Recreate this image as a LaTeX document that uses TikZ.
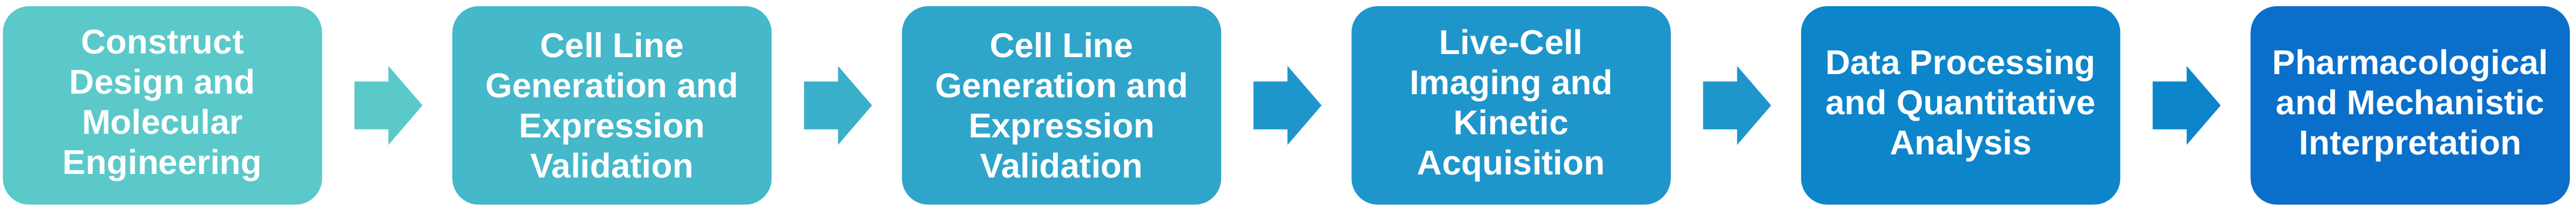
\documentclass[tikz,border=0pt]{standalone}
\usepackage{fontspec}
\setmainfont{Liberation Sans}
\usetikzlibrary{positioning}
\usetikzlibrary{calc}

\definecolor{stageA}{HTML}{5BC9C9}
\definecolor{stageB}{HTML}{45B8CA}
\definecolor{stageC}{HTML}{30A5CA}
\definecolor{stageD}{HTML}{1F96CB}
\definecolor{stageE}{HTML}{0D85CB}
\definecolor{stageF}{HTML}{0A6FCA}
\definecolor{flowB}{HTML}{3AAFCA}

\tikzset{
  stage/.style={shape=rectangle, rounded corners=0.55cm, minimum width=6.67cm,
    minimum height=4.15cm, inner sep=0pt, text=white, align=center,
    font=\bfseries\fontsize{20.5}{23.9}\selectfont},
}

\begin{document}
\begin{tikzpicture}[node distance=2.71cm]
    \useasboundingbox (0,0) rectangle (53.83,4.41);

    \node[stage, fill=stageA] (S_1) at (3.395,2.205) {Construct\\Design and\\Molecular\\Engineering};
    \node[stage, fill=stageB, right=of S_1] (S_2) {Cell Line\\Generation and\\Expression\\Validation};
    \node[stage, fill=stageC, right=of S_2] (S_3) {Cell Line\\Generation and\\Expression\\Validation};
    \node[stage, fill=stageD, right=of S_3] (S_4) {Live-Cell\\Imaging and\\Kinetic\\Acquisition};
    \node[stage, fill=stageE, right=of S_4] (S_5) {Data Processing\\and Quantitative\\Analysis};
    \node[stage, fill=stageF, right=of S_5] (S_6) {Pharmacological\\and Mechanistic\\Interpretation};

    % block arrows between the stages
    \foreach \a/\b/\c in {S_1/S_2/stageA, S_2/S_3/flowB, S_3/S_4/stageD, S_4/S_5/stageD, S_5/S_6/stageE}
        \fill[\c] ($(\a.east)+(0.67,-0.5)$) -- ($(\a.east)+(0.67,0.5)$)
            -- ($(\a.east)+(1.38,0.5)$) -- ($(\a.east)+(1.38,0.825)$)
            -- ($(\b.west)+(-0.62,0)$)
            -- ($(\a.east)+(1.38,-0.825)$) -- ($(\a.east)+(1.38,-0.5)$) -- cycle;
\end{tikzpicture}
\end{document}
